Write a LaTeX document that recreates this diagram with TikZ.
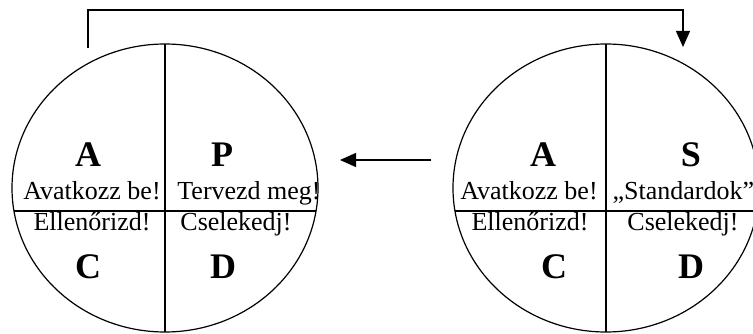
\documentclass[tikz,border=0pt]{standalone}
\usepackage{fontspec}
\setmainfont{Liberation Serif}
\usetikzlibrary{shapes.geometric,arrows.meta}

\tikzset{every picture/.style={line width=1.2pt}}
\tikzset{
  cycle/.style={draw, ellipse, minimum width=306pt, minimum height=288pt, inner sep=0pt, outer sep=0pt},
  letter/.style={anchor=base, inner sep=0pt, font=\fontsize{36}{36}\selectfont\bfseries},
  motto/.style={anchor=base, inner sep=0pt, font=\fontsize{26}{26}\selectfont},
  flow/.style={-{Triangle[length=16pt,width=14pt]}}
}

\begin{document}
\begin{tikzpicture}[x=1pt,y=1pt,yscale=-1,xscale=1]
\useasboundingbox (0,0) rectangle (753,334);

%Shape: Ellipse left (APCD)
\node[cycle] (apcd) at (165,188) {};
%Shape: Ellipse right (ASCD)
\node[cycle] (ascd) at (606,188) {};

%Straight Lines: quarter lines
\coordinate (apcdW) at (14,211);
\coordinate (apcdE) at (316,211);
\coordinate (ascdW) at (455,211);
\coordinate (ascdE) at (757,211);
\draw (apcd.north) -- (apcd.south);
\draw (apcdW) -- (apcdE);
\draw (ascd.north) -- (ascd.south);
\draw (ascdW) -- (ascdE);

%Straight Lines: feedback arrows
\coordinate (topstart) at (88,48);
\coordinate (topend) at (683,47);
\coordinate (midstart) at (431,160);
\coordinate (midend) at (340,160);
\draw[flow] (topstart) -- (88,10) -- (683,10) -- (topend);
\draw[flow] (midstart) -- (midend);

% Text Node: left cycle
\node[letter] (la) at (88,167) {A};
\node[letter] (lp) at (222,167) {P};
\node[motto] (lact) at (92,200) {Avatkozz be!};
\node[motto] (lplan) at (249,200) {Tervezd meg!};
\node[motto] (lcheck) at (92,230) {Ellenőrizd!};
\node[motto] (ldo) at (236,230) {Cselekedj!};
\node[letter] (lc) at (88,278) {C};
\node[letter] (ld) at (223,278) {D};

% Text Node: right cycle
\node[letter] (ra) at (543,167) {A};
\node[letter] (rs) at (691,167) {S};
\node[motto] (ract) at (529,200) {Avatkozz be!};
\node[motto, anchor=base west] (rstd) at (612,200) {„Standardok”};
\node[motto] (rcheck) at (530,230) {Ellenőrizd!};
\node[motto] (rdo) at (683,230) {Cselekedj!};
\node[letter] (rc) at (554,278) {C};
\node[letter] (rd) at (691,278) {D};

\end{tikzpicture}
\end{document}
